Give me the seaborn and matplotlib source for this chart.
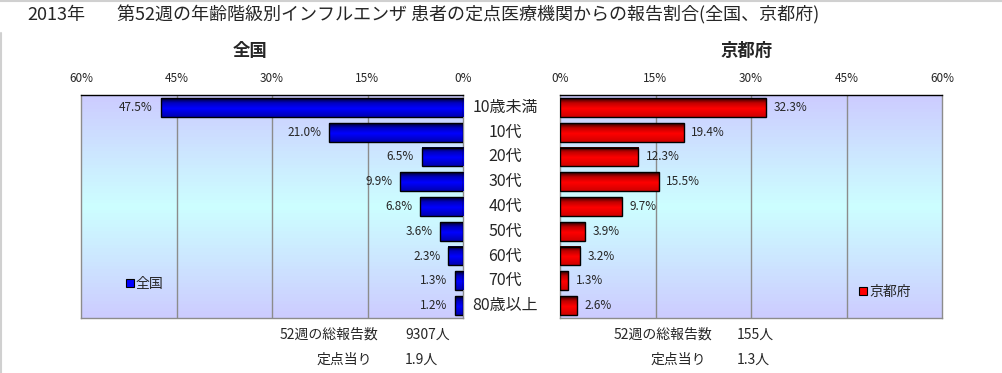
import numpy as np
import pandas as pd
import seaborn as sns
import matplotlib.pyplot as plt
from matplotlib.colors import LinearSegmentedColormap
from matplotlib.patches import Patch
from matplotlib.transforms import blended_transform_factory

# data
ages = ['10歳未満', '10代', '20代', '30代', '40代', '50代', '60代', '70代', '80歳以上']
zenkoku = [47.5, 21.0, 6.5, 9.9, 6.8, 3.6, 2.3, 1.3, 1.2]
kyoto = [32.3, 19.4, 12.3, 15.5, 9.7, 3.9, 3.2, 1.3, 2.6]
pct_ticks = [0, 15, 30, 45, 60]
total_zenkoku = '9307人'
per_zenkoku = '1.9人'
total_kyoto = '155人'
per_kyoto = '1.3人'

sns.set_theme(style='white')
plt.rcParams['font.family'] = ['Noto Sans CJK JP', 'DejaVu Sans']

W, H = 1002, 373
fig = plt.figure(figsize=(W / 100, H / 100), dpi=100)

def px(x0, y0, x1, y1):
    return [x0 / W, 1 - y1 / H, (x1 - x0) / W, (y1 - y0) / H]

axL = fig.add_axes(px(81, 95, 463, 318))
axR = fig.add_axes(px(560, 95, 942, 318))

bg = LinearSegmentedColormap.from_list('bg', ['#ccccff', '#ccffff', '#ccccff'])
blue = LinearSegmentedColormap.from_list('blue', [(0, '#00002a'), (0.25, '#0000c0'),
                                                  (0.55, '#0000ff'), (1, '#0000b0')])
red = LinearSegmentedColormap.from_list('red', [(0, '#2a0000'), (0.25, '#c00000'),
                                                (0.55, '#ff0000'), (1, '#d00000')])
grad = np.linspace(0, 1, 64).reshape(-1, 1)


def panel(ax, vals, cmap, label, left):
    df = pd.DataFrame({'age': ages, 'pct': vals})
    sns.barplot(data=df, x='pct', y='age', ax=ax, color='blue', orient='h', width=0.76)
    ax.set_xlim(0, 60)
    ylim = ax.get_ylim()
    ax.imshow(grad, cmap=bg, extent=[0, 1, 0, 1], transform=ax.transAxes,
              aspect='auto', zorder=0)
    for p in ax.patches:
        x0, y0, w, h = p.get_x(), p.get_y(), p.get_width(), p.get_height()
        ax.imshow(grad, cmap=cmap, extent=[x0, x0 + w, y0 + h, y0],
                  aspect='auto', zorder=3, origin='upper')
        p.set_facecolor('none')
        p.set_edgecolor('black')
        p.set_linewidth(1)
        p.set_zorder(4)
    ax.set_ylim(ylim)
    ax.set_xlim(0, 60)
    if left:
        ax.invert_xaxis()
    for i, v in enumerate(vals):
        if left:
            ax.text(v + 1.2, i, f'{v:.1f}%', ha='right', va='center', fontsize=8.5, zorder=5)
        else:
            ax.text(v + 1.2, i, f'{v:.1f}%', ha='left', va='center', fontsize=8.5, zorder=5)
    ax.set_xticks(pct_ticks)
    ax.set_xticklabels([f'{t}%' for t in pct_ticks], fontsize=8.5)
    ax.xaxis.tick_top()
    ax.tick_params(axis='x', length=0, pad=7)
    ax.set_yticks([])
    ax.set_xlabel('')
    ax.set_ylabel('')
    for t in pct_ticks[1:-1]:
        ax.axvline(t, color='#8c8c8c', lw=1, zorder=1)
    for s in ax.spines.values():
        s.set_color('#8c8c8c')
        s.set_linewidth(1)
    ax.spines['top'].set_color('black')
    loc = (0.1, 0.09) if left else (0.765, 0.055)
    ax.legend(handles=[Patch(facecolor=cmap(0.55), edgecolor='black', lw=0.8, label=label)],
              loc='lower left', bbox_to_anchor=loc, frameon=False, fontsize=10,
              handlelength=0.55, handleheight=0.55, handletextpad=0.15, borderpad=0)


panel(axL, zenkoku, blue, '全国', True)
panel(axR, kyoto, red, '京都府', False)

# category labels in the middle
tr = blended_transform_factory(fig.transFigure, axL.transData)
for i, a in enumerate(ages):
    fig.text(505 / W, i, a, transform=tr, ha='center', va='center', fontsize=11.5)

# titles
fig.text(27 / W, 1 - 15 / H, '2013年', ha='left', va='center', fontsize=13)
fig.text(117 / W, 1 - 15 / H, '第52週の年齢階級別インフルエンザ 患者の定点医療機関からの報告割合(全国、京都府)',
         ha='left', va='center', fontsize=13)
fig.text(250 / W, 1 - 51 / H, '全国', ha='center', va='center', fontsize=12.5, fontweight='bold')
fig.text(747 / W, 1 - 51 / H, '京都府', ha='center', va='center', fontsize=12.5, fontweight='bold')

# totals under the charts
fs = 10
fig.text(378 / W, 1 - 335 / H, '52週の総報告数', ha='right', va='center', fontsize=fs)
fig.text(405 / W, 1 - 335 / H, total_zenkoku, ha='left', va='center', fontsize=fs)
fig.text(372 / W, 1 - 360 / H, '定点当り', ha='right', va='center', fontsize=fs)
fig.text(405 / W, 1 - 360 / H, per_zenkoku, ha='left', va='center', fontsize=fs)
fig.text(712 / W, 1 - 335 / H, '52週の総報告数', ha='right', va='center', fontsize=fs)
fig.text(737 / W, 1 - 335 / H, total_kyoto, ha='left', va='center', fontsize=fs)
fig.text(706 / W, 1 - 360 / H, '定点当り', ha='right', va='center', fontsize=fs)
fig.text(737 / W, 1 - 360 / H, per_kyoto, ha='left', va='center', fontsize=fs)

# thin frame lines at the top and left edge
fig.add_artist(plt.Line2D([0, 1], [1 - 0.5 / H, 1 - 0.5 / H], color='#d0d0d0', lw=1.5))
fig.add_artist(plt.Line2D([0.5 / W, 0.5 / W], [0, 1 - 33 / H], color='#d0d0d0', lw=1.5))

fig.savefig('out.png', dpi=100)
